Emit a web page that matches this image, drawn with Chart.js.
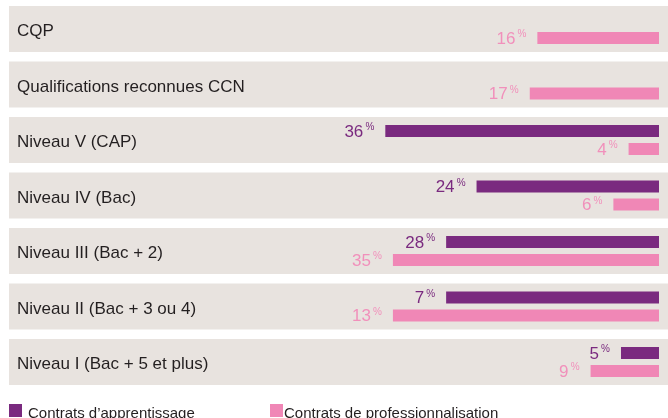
<!DOCTYPE html>
<html lang="fr">
<head>
<meta charset="utf-8">
<script src="https://cdn.jsdelivr.net/npm/chart.js@4/dist/chart.umd.min.js"></script>
<style>
  html, body { margin: 0; padding: 0; background: #fff; }
  #wrap { position: relative; width: 668px; height: 418px; }
</style>
</head>
<body>
<div id="wrap"><canvas id="c" width="668" height="418"></canvas></div>
<script>
// Categories, top to bottom.
const categories = [
  "CQP",
  "Qualifications reconnues CCN",
  "Niveau V (CAP)",
  "Niveau IV (Bac)",
  "Niveau III (Bac + 2)",
  "Niveau II (Bac + 3 ou 4)",
  "Niveau I (Bac + 5 et plus)",
];
// Bar lengths as drawn in the reference (Niveau II bars repeat Niveau III's).
const apprentissage = [null, null, 36, 24, 28, 28, 5];
const professionnalisation = [16, 17, 4, 6, 35, 35, 9];
// Printed value labels.
const apprentissageLabels = [null, null, 36, 24, 28, 7, 5];
const professionnalisationLabels = [16, 17, 4, 6, 35, 13, 9];
const seriesNames = ["Contrats d\u2019apprentissage", "Contrats de professionnalisation"];

const PURPLE = "#7a2a7f";
const PINK = "#f087b6";
const PINK_TEXT = "#f190bb";
const BAND = "#e8e3df";
const FONT = "'Liberation Sans', Arial, sans-serif";

// Grey bands behind each category, plus the category name.
const bands = {
  id: "bands",
  beforeDatasetsDraw(chart) {
    const { ctx } = chart;
    const y = chart.scales.y;
    const step = y.getPixelForValue(1) - y.getPixelForValue(0);
    ctx.save();
    categories.forEach((name, i) => {
      const cy = y.getPixelForValue(i);
      ctx.fillStyle = BAND;
      ctx.fillRect(9, cy - step / 2 + 4.75, chart.width - 9, step - 9.5);
      ctx.fillStyle = "#231f20";
      ctx.font = `17px ${FONT}`;
      ctx.textBaseline = "alphabetic";
      ctx.textAlign = "left";
      ctx.fillText(name, 17, cy + 7);
    });
    ctx.restore();
  },
};

// "36 %" value labels left of each bar, and the legend at the foot.
const valueLabels = {
  id: "valueLabels",
  afterDatasetsDraw(chart) {
    const { ctx } = chart;
    const labelSets = [apprentissageLabels, professionnalisationLabels];
    const colors = [PURPLE, PINK_TEXT];
    ctx.save();
    chart.data.datasets.forEach((ds, di) => {
      chart.getDatasetMeta(di).data.forEach((bar, i) => {
        const v = labelSets[di][i];
        if (v == null || ds.data[i] == null) return;
        ctx.fillStyle = colors[di];
        ctx.textAlign = "right";
        ctx.textBaseline = "alphabetic";
        ctx.font = `17px ${FONT}`;
        ctx.fillText(String(v), bar.x - 22, bar.y + 5.5);
        ctx.font = `10px ${FONT}`;
        ctx.fillText("%", bar.x - 11, bar.y - 1);
      });
    });
    // legend
    const items = [
      { x: 9, tx: 28, color: PURPLE, text: seriesNames[0] },
      { x: 270, tx: 284, color: PINK, text: seriesNames[1] },
    ];
    ctx.font = `15px ${FONT}`;
    ctx.textAlign = "left";
    ctx.textBaseline = "alphabetic";
    items.forEach((it) => {
      ctx.fillStyle = it.color;
      ctx.fillRect(it.x, 404, 13, 13);
      ctx.fillStyle = "#231f20";
      ctx.fillText(it.text, it.tx, 417.5);
    });
    ctx.restore();
  },
};

new Chart(document.getElementById("c"), {
  type: "bar",
  data: {
    labels: categories,
    datasets: [
      { label: seriesNames[0], data: apprentissage, backgroundColor: PURPLE },
      { label: seriesNames[1], data: professionnalisation, backgroundColor: PINK },
    ],
  },
  options: {
    indexAxis: "y",
    responsive: false,
    animation: false,
    devicePixelRatio: 1,
    categoryPercentage: 36 / 55.5,
    barPercentage: 12 / 18,
    layout: { padding: { top: 1.25, bottom: 28.25, left: 9, right: 9 } },
    plugins: { legend: { display: false }, tooltip: { enabled: false } },
    scales: {
      x: { display: false, reverse: true, min: 0, max: 85.5 },
      y: { display: false },
    },
  },
  plugins: [bands, valueLabels],
});
</script>
</body>
</html>
